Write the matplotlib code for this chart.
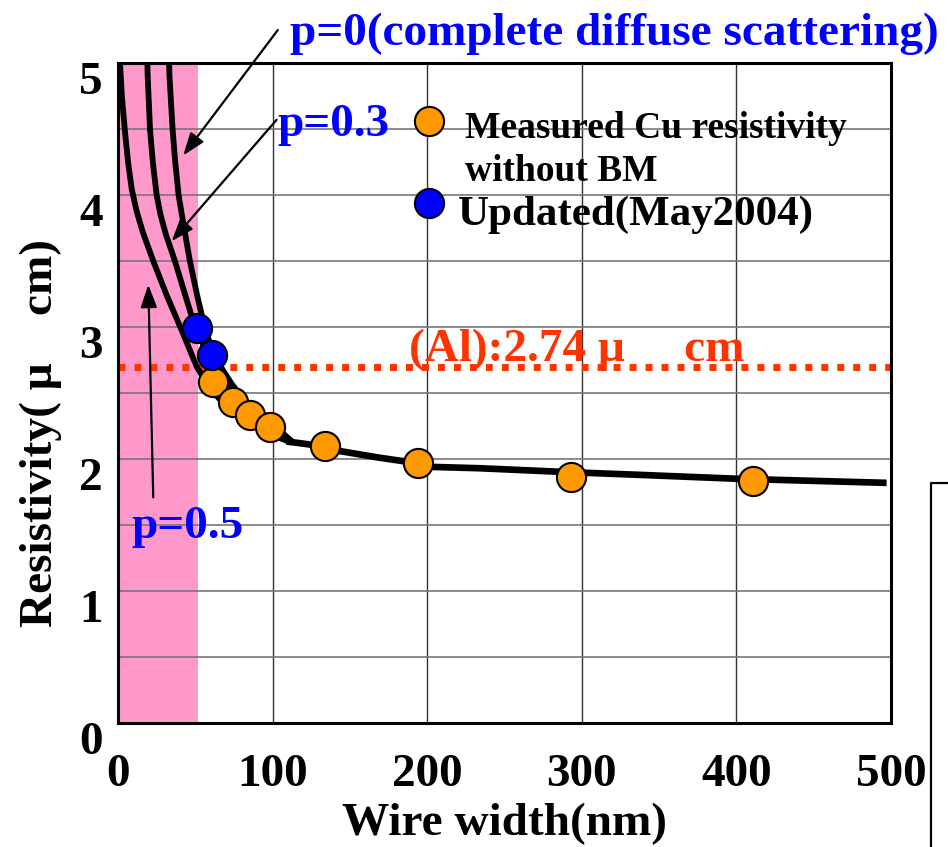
import matplotlib
matplotlib.use("Agg")
import matplotlib.pyplot as plt
from matplotlib.lines import Line2D
from matplotlib.transforms import ScaledTranslation

plt.rcParams['font.family'] = ['Liberation Serif', 'DejaVu Serif']
plt.rcParams['font.weight'] = 'bold'

# ---- data ----
measured_x = [61.6, 74.5, 85.3, 98.3, 134, 194, 292.8, 410.6]
measured_y = [2.585, 2.43, 2.33, 2.24, 2.10, 1.97, 1.866, 1.83]
updated_x = [50.9, 60.5]
updated_y = [2.99, 2.79]

p05_x = [1.0, 1.3, 2.5, 4.5, 6.5, 8.8, 12, 16, 22.8, 31.5, 41, 50.9, 56, 62, 70, 80, 90, 100, 111]
p05_y = [5.1, 5.0, 4.75, 4.48, 4.25, 4.05, 3.88, 3.72, 3.5, 3.24, 2.98, 2.70, 2.6, 2.5, 2.40, 2.31, 2.24, 2.18, 2.13]
p03_x = [18.8, 19.2, 20.7, 22.5, 25, 27.5, 31, 36.8, 43, 49.8, 55, 60, 70, 80, 90, 100, 111]
p03_y = [5.1, 4.9, 4.5, 4.25, 4.0, 3.85, 3.7, 3.5, 3.26, 3.0, 2.87, 2.77, 2.6, 2.45, 2.32, 2.22, 2.14]
p00_x = [32.8, 33.3, 35.3, 37.0, 39.2, 41.3, 43.5, 46.5, 51, 56, 60, 64, 68, 73.5, 80, 89.6, 100, 111]
p00_y = [5.1, 4.9, 4.5, 4.25, 4.0, 3.85, 3.7, 3.5, 3.25, 3.0, 2.86, 2.75, 2.67, 2.57, 2.47, 2.36, 2.26, 2.15]
tail_x = [111, 124, 143.5, 169, 186.6, 203.6, 234, 292, 337, 401, 495]
tail_y = [2.13, 2.11, 2.06, 2.01, 1.98, 1.94, 1.93, 1.90, 1.88, 1.85, 1.82]

al_value = 2.70
pink_limit = 52

x_ticks = [0, 100, 200, 300, 400, 500]
y_ticks = [0, 1, 2, 3, 4, 5]

# ---- figure ----
fig = plt.figure(figsize=(9.48, 8.47), dpi=100)
ax = fig.add_axes([118/948, 1-723/847, (891-118)/948, (723-63)/847])
ax.set_xlim(0, 500)
ax.set_ylim(0, 5)

ax.axvspan(0, pink_limit, color='#FF99CC', zorder=0, lw=0)

for gx in [100, 200, 300, 400]:
    ax.axvline(gx, color='#333333', lw=1.0, zorder=1)
for gy in [0.5, 1, 1.5, 2, 2.5, 3, 3.5, 4, 4.5]:
    ax.axhline(gy, color='#777777', lw=1.2, zorder=1)

ax.axhline(al_value, color='#FF3300', lw=5, ls=(0, (1.0, 1.3)), zorder=2,
           dash_capstyle='butt')

for cx, cy in [(p05_x, p05_y), (p03_x, p03_y), (p00_x, p00_y)]:
    ax.plot(cx, cy, color='black', lw=4.2, zorder=3, solid_joinstyle='round')
ax.plot(tail_x, tail_y, color='black', lw=4.8, zorder=3, solid_joinstyle='round')

ax.plot(measured_x, measured_y, 'o', ms=21, mfc='#FF9900', mec='black', mew=1.5, zorder=5)
ax.plot(updated_x, updated_y, 'o', ms=21, mfc='#0000FF', mec='black', mew=1.5, zorder=6)

# legend-like entries
ax.plot([201], [4.56], 'o', ms=21, mfc='#FF9900', mec='black', mew=1.5, zorder=6, clip_on=False)
ax.plot([201], [3.94], 'o', ms=21, mfc='#0000FF', mec='black', mew=1.5, zorder=6, clip_on=False)
ax.text(224.3, 4.43, 'Measured Cu resistivity', fontsize=27, fontweight='bold',
        va='baseline', ha='left', zorder=7)
ax.text(224.3, 4.106, 'without BM', fontsize=27, fontweight='bold',
        va='baseline', ha='left', zorder=7)
ax.text(219.8, 3.77, 'Updated(May2004)', fontsize=31, fontweight='bold',
        va='baseline', ha='left', zorder=7)

ax.text(188, 2.74, '(Al):2.74 μ     cm', fontsize=34, fontweight='bold', color='#FF3300',
        va='baseline', ha='left', zorder=7)

# p labels
fig.text(290/948, 1-45/847, 'p=0(complete diffuse scattering)', fontsize=34,
         fontweight='bold', color='#0000FF', va='baseline', ha='left')
ax.text(103, 4.45, 'p=0.3', fontsize=34, fontweight='bold', color='#0000FF',
        va='baseline', ha='left', zorder=7)
ax.text(8.4, 1.40, 'p=0.5', fontsize=34, fontweight='bold', color='#0000FF',
        va='baseline', ha='left', zorder=7)

arrow = dict(arrowstyle='-|>,head_length=0.55,head_width=0.2', lw=1.6, color='black',
             mutation_scale=25, shrinkA=0, shrinkB=0)
ax.annotate('', xy=(42.2, 4.30), xytext=(103.4, 5.25), arrowprops=arrow,
            annotation_clip=False, zorder=8)
ax.annotate('', xy=(34.7, 3.65), xytext=(102.6, 4.57), arrowprops=arrow, zorder=8)
ax.annotate('', xy=(19.6, 3.32), xytext=(22.8, 1.71), arrowprops=arrow, zorder=8)

ax.set_xticks(x_ticks)
ax.set_yticks(y_ticks)
ax.set_xticklabels([str(v) for v in x_ticks], fontsize=34, fontweight='bold')
ax.set_yticklabels([str(v) for v in y_ticks], fontsize=34, fontweight='bold')
ax.tick_params(axis='x', length=0, pad=22)
ax.tick_params(axis='y', length=0, pad=11)
shift = ScaledTranslation(0, -15/100, fig.dpi_scale_trans)
for lab in ax.get_yticklabels():
    lab.set_transform(lab.get_transform() + shift)

ax.set_xlabel('Wire width(nm)', fontsize=34, fontweight='bold', labelpad=5)
ax.set_ylabel('Resistivity( μ    cm)', fontsize=34, fontweight='bold')
ax.yaxis.set_label_coords(-0.072, 0.44)
for s in ax.spines.values():
    s.set_linewidth(2.2)
    s.set_zorder(9)

# partial box on right edge
fig.add_artist(Line2D([931/948, 931/948, 1.0], [0, 1-483/847, 1-483/847],
                      color='black', lw=1.6))

fig.savefig('out.png', dpi=100)
